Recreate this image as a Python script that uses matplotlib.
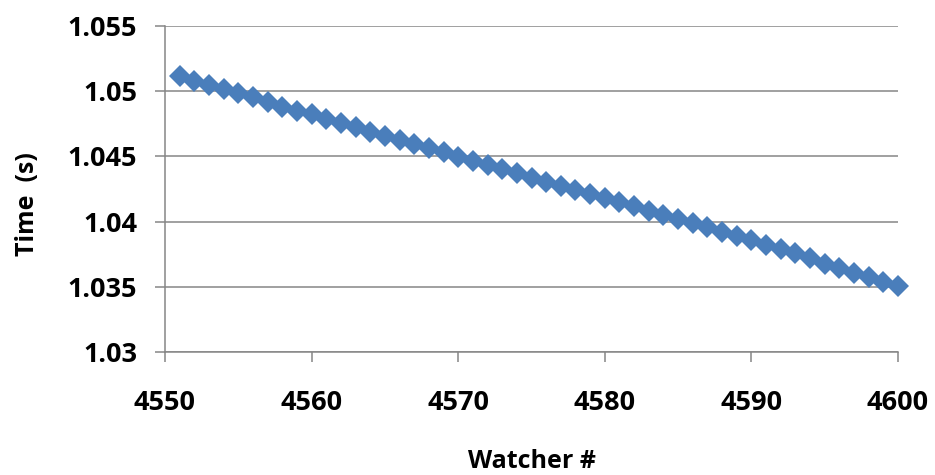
import matplotlib
matplotlib.use("Agg")
import matplotlib.pyplot as plt

# Watcher index and measured time (s)
watchers = list(range(4551, 4601))
times = [
    1.05118, 1.05081, 1.05048, 1.05015, 1.04984, 1.04953, 1.04915, 1.04881, 1.04850, 1.04823,
    1.04787, 1.04754, 1.04723, 1.04689, 1.04659, 1.04626, 1.04594, 1.04561, 1.04530, 1.04497,
    1.04466, 1.04433, 1.04401, 1.04370, 1.04338, 1.04306, 1.04275, 1.04243, 1.04211, 1.04180,
    1.04148, 1.04116, 1.04084, 1.04051, 1.04018, 1.03987, 1.03956, 1.03923, 1.03890, 1.03859,
    1.03821, 1.03788, 1.03757, 1.03719, 1.03675, 1.03642, 1.03609, 1.03573, 1.03540, 1.03509,
]

x_ticks = [4550, 4560, 4570, 4580, 4590, 4600]
y_ticks = [1.03, 1.035, 1.04, 1.045, 1.05, 1.055]
y_tick_labels = ["1.03", "1.035", "1.04", "1.045", "1.05", "1.055"]

plt.rcParams["font.family"] = ["Open Sans", "DejaVu Sans"]
plt.rcParams["font.weight"] = "bold"

W, H = 935, 475
fig = plt.figure(figsize=(W / 100, H / 100), dpi=100)
ax = fig.add_axes([165 / W, 1 - 352 / H, (898 - 165) / W, (352 - 26) / H])

grey = "#868686"
ax.set_xlim(4550, 4600)
ax.set_ylim(1.03, 1.055)
ax.set_xticks(x_ticks)
ax.set_yticks(y_ticks)
ax.set_yticklabels(y_tick_labels)

ax.grid(axis="y", color=grey, linewidth=1.1, zorder=1)
ax.set_axisbelow(True)
for side in ("top", "right"):
    ax.spines[side].set_visible(False)
for side in ("left", "bottom"):
    ax.spines[side].set_color(grey)
    ax.spines[side].set_linewidth(1.1)

ax.tick_params(axis="both", direction="out", length=7, width=1.1, color=grey,
               labelsize=19.5, labelcolor="black")
ax.tick_params(axis="y", pad=13)
ax.tick_params(axis="x", pad=20)
for lbl in ax.get_xticklabels() + ax.get_yticklabels():
    lbl.set_fontweight("bold")

ax.plot(watchers, times, linestyle="none", marker="D", markersize=11.5,
        color="#4A7EBB", markeredgewidth=0, zorder=3, clip_on=False)

ax.set_xlabel("Watcher #", fontsize=18, fontweight="bold")
ax.xaxis.set_label_coords(0.5, -0.297)
ax.set_ylabel("Time  (s)", fontsize=18, fontweight="bold")
ax.yaxis.set_label_coords(-0.171, 0.454)

fig.savefig("out.png", dpi=100, facecolor="white")
